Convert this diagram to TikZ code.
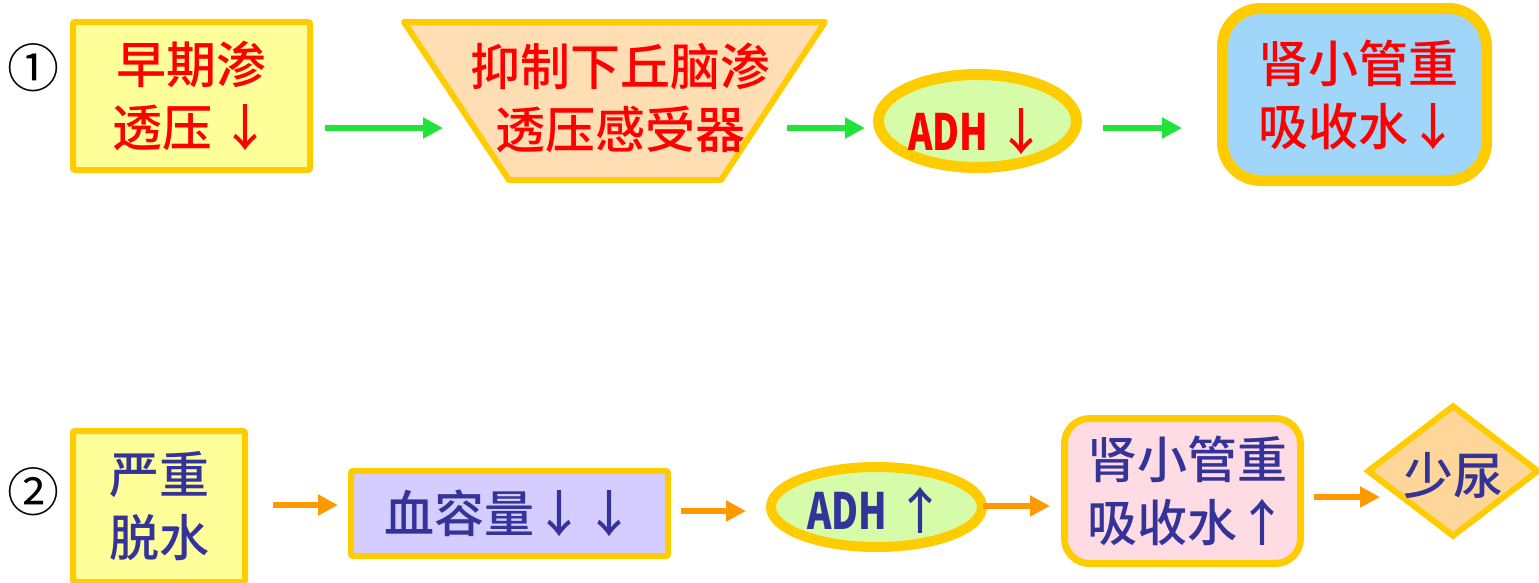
\documentclass[tikz,border=0pt]{standalone}
\usepackage{fontspec}
\setmainfont{Noto Sans CJK SC}
\newfontfamily\midfont{Noto Sans CJK SC Medium}
\newfontfamily\numfont{Noto Sans CJK SC}
\usetikzlibrary{arrows.meta,shapes.geometric}
\definecolor{edgeY}{HTML}{FFCC00}
\definecolor{fillY}{HTML}{FFFF99}
\definecolor{fillPeach}{HTML}{FFDEB4}
\definecolor{fillLime}{HTML}{D6FCA9}
\definecolor{fillSky}{HTML}{9FD6F9}
\definecolor{fillLav}{HTML}{D5CCFF}
\definecolor{fillPink}{HTML}{FFDCE4}
\definecolor{fillOr}{HTML}{FFD699}
\definecolor{txtBlue}{HTML}{333399}
\definecolor{txtRed}{HTML}{FF0000}
\definecolor{arrGreen}{HTML}{22E33A}
\definecolor{arrOrange}{HTML}{FF9900}
\newcommand{\adhtext}{\scalebox{0.74}[1]{\numfont\bfseries ADH}}
\tikzset{
  big/.style={font=\midfont\fontsize{50}{63}\selectfont, align=center},
  boxshape/.style={draw=edgeY, inner sep=0pt, big},
  garrow/.style={draw=arrGreen, line width=6pt, -{Triangle[length=20pt,width=20pt]}},
  oarrow/.style={draw=arrOrange, line width=6pt, -{Triangle[length=20pt,width=20pt]}},
  numlabel/.style={font=\numfont\fontsize{52}{52}\selectfont, inner sep=0pt}
}
\begin{document}
\begin{tikzpicture}[x=1pt,y=-1pt]
\useasboundingbox (0,0) rectangle (1539,582);
% row coordinates
\coordinate (r1) at (0,128);
\coordinate (ra) at (0,505);
\coordinate (rb) at (0,511);
\coordinate (rc) at (0,506);
\coordinate (rd) at (0,497);

% ---------- row 1 ----------
\node[numlabel] (n1) at (33,68) {①};
\node[boxshape, fill=fillY, line width=6pt, rounded corners=2pt,
      minimum width=237pt, minimum height=148pt, text=txtRed] (b1) at (191.5,96) {早期渗\\透压\,↓};

\coordinate (t1) at (404,22);
\coordinate (t2) at (825,22);
\coordinate (t3) at (721,180);
\coordinate (t4) at (509,180);
\draw[draw=edgeY, fill=fillPeach, line width=6pt, line join=round] (t1) -- (t2) -- (t3) -- (t4) -- cycle;
\node[big, inner sep=0pt, text=txtRed] (trap) at (620,98) {抑制下丘脑渗\\透压感受器};
\coordinate (tl) at (474.5,128);
\coordinate (tr) at (755,128);

\node[ellipse, draw=edgeY, fill=fillLime, line width=11pt, inner sep=0pt,
      minimum width=198pt, minimum height=93pt, text=txtRed,
      font=\midfont\fontsize{50}{50}\selectfont, text height=58pt, text depth=0pt] (e1) at (977.5,121)
      {\adhtext\,↓};

\node[boxshape, fill=fillSky, line width=11pt, rounded corners=38pt,
      minimum width=264pt, minimum height=172pt, text=txtRed] (bb) at (1354.5,94.5) {\hspace*{8pt}肾小管重\\\hspace*{8pt}吸收水↓};

\draw[garrow, shorten <=12pt, shorten >=31.5pt] (b1.east |- r1) -- (tl);
\draw[garrow, shorten <=32pt, shorten >=8pt] (tr) -- (e1.west |- r1);
\draw[garrow, shorten <=21pt, shorten >=35pt] (e1.east |- r1) -- (bb.west |- r1);

% ---------- row 2 ----------
\node[numlabel] (n2) at (33,492) {②};
\node[boxshape, fill=fillY, line width=6pt, rounded corners=2pt,
      minimum width=172pt, minimum height=151pt, text=txtBlue] (b2) at (159,506.5) {严重\\脱水};
\node[boxshape, fill=fillLav, line width=6pt, rounded corners=2pt,
      minimum width=317pt, minimum height=85pt, text=txtBlue] (lav) at (509.5,513.5) {血容量↓↓};
\node[ellipse, draw=edgeY, fill=fillLime, line width=10pt, inner sep=0pt,
      minimum width=211pt, minimum height=80pt, text=txtBlue,
      font=\midfont\fontsize{50}{50}\selectfont, text height=44pt, text depth=0pt] (e2) at (876.5,507)
      {\adhtext\,↑};
\node[boxshape, fill=fillPink, line width=7pt, rounded corners=25pt,
      minimum width=236pt, minimum height=145pt, text=txtBlue] (pk) at (1182.5,491) {\hspace*{10pt}肾小管重\\\hspace*{10pt}吸收水↑};
\node[diamond, draw=edgeY, fill=fillOr, line width=6pt, inner sep=0pt, aspect=1.3,
      minimum width=172pt, minimum height=132pt, text=txtBlue,
      font=\midfont\fontsize{50}{50}\selectfont, text height=47pt, text depth=0pt] (dm) at (1453,471) {少尿};

\draw[oarrow, shorten <=25pt, shorten >=10pt] (b2.east |- ra) -- (lav.west |- ra);
\draw[oarrow, shorten <=10pt, shorten >=20pt] (lav.east |- rb) -- (e2.west |- rb);
\draw[oarrow, shorten <=-4pt, shorten >=11pt] (e2.east |- rc) -- (pk.west |- rc);
\draw[oarrow, shorten <=10pt, shorten >=-16pt] (pk.east |- rd) -- (dm.west |- rd);
\end{tikzpicture}
\end{document}
